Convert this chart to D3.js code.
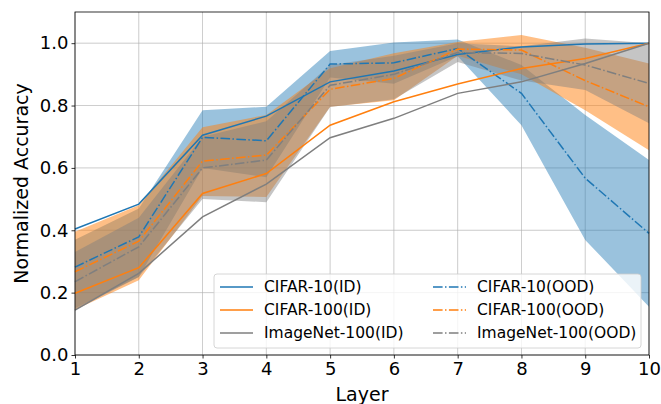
<!DOCTYPE html>
<html>
<head>
<meta charset="utf-8">
<script src="https://cdn.jsdelivr.net/npm/d3@7"></script>
<style>
body { margin: 0; background: #fff; }
text { font-family: "DejaVu Sans", sans-serif; fill: #000; }
</style>
</head>
<body>
<div id="chart"></div>
<script>
const layers = [1, 2, 3, 4, 5, 6, 7, 8, 9, 10];
const yTicks = [0.0, 0.2, 0.4, 0.6, 0.8, 1.0];

// ID curves (solid)
const c10_id   = [0.404, 0.484, 0.705, 0.766, 0.876, 0.911, 0.964, 0.988, 0.997, 1.0];
const c100_id  = [0.198, 0.280, 0.518, 0.582, 0.737, 0.812, 0.869, 0.919, 0.951, 1.0];
const in100_id = [0.144, 0.262, 0.443, 0.548, 0.697, 0.759, 0.839, 0.876, 0.935, 1.0];

// OOD curves (dash-dot) with spread
const c10_ood    = [0.282, 0.379, 0.698, 0.687, 0.933, 0.937, 0.983, 0.839, 0.567, 0.390];
const c10_ood_lo = [0.150, 0.250, 0.600, 0.570, 0.890, 0.870, 0.958, 0.737, 0.369, 0.155];
const c10_ood_hi = [0.370, 0.470, 0.785, 0.796, 0.975, 1.002, 1.012, 0.930, 0.770, 0.625];

const c100_ood    = [0.267, 0.365, 0.622, 0.641, 0.852, 0.887, 0.981, 0.978, 0.880, 0.796];
const c100_ood_lo = [0.145, 0.240, 0.510, 0.507, 0.796, 0.817, 0.960, 0.900, 0.785, 0.657];
const c100_ood_hi = [0.395, 0.480, 0.730, 0.770, 0.920, 0.968, 1.004, 1.026, 0.985, 0.935];

const in100_ood    = [0.235, 0.347, 0.600, 0.625, 0.865, 0.900, 0.970, 0.967, 0.930, 0.871];
const in100_ood_lo = [0.145, 0.250, 0.500, 0.490, 0.795, 0.820, 0.940, 0.880, 0.850, 0.743];
const in100_ood_hi = [0.330, 0.440, 0.700, 0.750, 0.930, 0.960, 1.000, 0.990, 1.015, 1.000];

const names = ["CIFAR-10", "CIFAR-100", "ImageNet-100"];
const colors = ["#1f77b4", "#ff7f0e", "#7f7f7f"];

const W = 661, H = 404;
const margin = {top: 12, right: 12, bottom: 49, left: 75};
const width = W - margin.left - margin.right,
      height = H - margin.top - margin.bottom;

const svg = d3.select("#chart").append("svg")
  .attr("width", W).attr("height", H);
const g = svg.append("g")
  .attr("transform", "translate(" + margin.left + "," + margin.top + ")");

const x = d3.scaleLinear().domain([1, 10]).range([0, width]);
const y = d3.scaleLinear().domain([0, 1.1]).range([height, 0]);

// grid
g.append("g").selectAll("line").data(layers).enter().append("line")
  .attr("x1", d => x(d)).attr("x2", d => x(d))
  .attr("y1", 0).attr("y2", height)
  .attr("stroke", "#b0b0b0").attr("stroke-width", 0.8).attr("opacity", 0.8);
g.append("g").selectAll("line").data(yTicks).enter().append("line")
  .attr("x1", 0).attr("x2", width)
  .attr("y1", d => y(d)).attr("y2", d => y(d))
  .attr("stroke", "#b0b0b0").attr("stroke-width", 0.8).attr("opacity", 0.8);

const idData = [c10_id, c100_id, in100_id];
const oodData = [c10_ood, c100_ood, in100_ood];
const loData = [c10_ood_lo, c100_ood_lo, in100_ood_lo];
const hiData = [c10_ood_hi, c100_ood_hi, in100_ood_hi];

const line = d3.line().x((d, i) => x(layers[i])).y(d => y(d));
const area = d3.area()
  .x((d, i) => x(layers[i]))
  .y0(d => y(d[0])).y1(d => y(d[1]));

const plot = g.append("g");
// bands first, then lines on top
names.forEach(function(n, k) {
  plot.append("path")
    .attr("d", area(loData[k].map((v, i) => [v, hiData[k][i]])))
    .attr("fill", colors[k]).attr("fill-opacity", k == 1 ? 0.5 : 0.45);
});
names.forEach(function(n, k) {
  plot.append("path")
    .attr("d", line(idData[k]))
    .attr("fill", "none").attr("stroke", colors[k]).attr("stroke-width", 1.5);
  plot.append("path")
    .attr("d", line(oodData[k]))
    .attr("fill", "none").attr("stroke", colors[k]).attr("stroke-width", 1.5)
    .attr("stroke-dasharray", "9.6,2.4,1.5,2.4");
});

// axes
const xAxis = g.append("g")
  .attr("transform", "translate(0," + height + ")")
  .call(d3.axisBottom(x).tickValues(layers).tickFormat(d3.format("d")).tickSizeInner(3.5).tickSizeOuter(0).tickPadding(3));
const yAxis = g.append("g")
  .call(d3.axisLeft(y).tickValues(yTicks).tickFormat(d3.format(".1f")).tickSizeInner(3.5).tickSizeOuter(0).tickPadding(3));
[xAxis, yAxis].forEach(a => {
  a.select(".domain").remove();
  a.selectAll("text").style("font-size", "18px").style("font-family", "DejaVu Sans");
  a.selectAll("line").attr("stroke", "#000").attr("stroke-width", 0.8);
});
xAxis.selectAll("text").attr("dy", "0.75em");

// frame
g.append("rect").attr("width", width).attr("height", height)
  .attr("fill", "none").attr("stroke", "#000").attr("stroke-width", 0.8);

// axis titles
g.append("text")
  .attr("x", width / 2).attr("y", height + 46)
  .attr("text-anchor", "middle").style("font-size", "19px")
  .text("Layer");
g.append("text")
  .attr("transform", "rotate(-90)")
  .attr("x", -height / 2).attr("y", -47)
  .attr("text-anchor", "middle").style("font-size", "19px")
  .text("Normalized Accuracy");

// legend
const leg = g.append("g").attr("transform", "translate(" + (214 - margin.left) + "," + (274 - margin.top) + ")");
leg.append("rect").attr("width", 427).attr("height", 74).attr("rx", 3)
  .attr("fill", "#fff").attr("fill-opacity", 0.8)
  .attr("stroke", "#ccc").attr("stroke-width", 0.8);
const legItems = [];
names.forEach((n, k) => legItems.push({label: n + "(ID)", color: colors[k], dash: null, col: 0, row: k}));
names.forEach((n, k) => legItems.push({label: n + "(OOD)", color: colors[k], dash: "9.6,2.4,1.5,2.4", col: 1, row: k}));
const li = leg.selectAll(".item").data(legItems).enter().append("g")
  .attr("transform", d => "translate(" + (6 + d.col * 213) + "," + (13 + d.row * 23) + ")");
li.append("line").attr("x1", 0).attr("x2", 33).attr("y1", 0).attr("y2", 0)
  .attr("stroke", d => d.color).attr("stroke-width", 1.5)
  .attr("stroke-dasharray", d => d.dash);
li.append("text").attr("x", 44).attr("y", 0).attr("dy", "0.35em")
  .style("font-size", "15.5px").text(d => d.label);
</script>
</body>
</html>
